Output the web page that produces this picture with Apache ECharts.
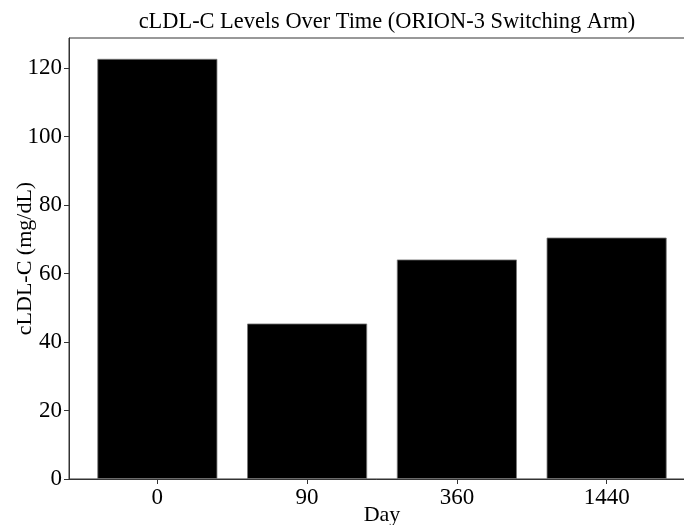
<!DOCTYPE html>
<html>
<head>
<meta charset="utf-8">
<script src="https://cdn.jsdelivr.net/npm/echarts@6/dist/echarts.min.js"></script>
<style>html,body{margin:0;padding:0;background:#fff}#c{width:684px;height:525px}</style>
</head>
<body>
<div id="c"></div>
<script>
const categories = ['0', '90', '360', '1440'];
const values = [122.7, 45.4, 64.1, 70.5];
const yTicks = [0, 20, 40, 60, 80, 100, 120];

const font = 'Liberation Serif';
const chart = echarts.init(document.getElementById('c'), null, {renderer: 'canvas'});
chart.setOption({
  animation: false,
  backgroundColor: '#fff',
  title: {
    text: 'cLDL-C Levels Over Time (ORION-3 Switching Arm)',
    left: 382, top: 6, textAlign: 'center',
    textStyle: {fontFamily: font, fontSize: 22.4, fontWeight: 'normal', color: '#000'}
  },
  grid: {left: 69, top: 38, width: 626, height: 441, show: true, borderColor: '#333', borderWidth: 1, containLabel: false, outerBoundsMode: 'none'},
  xAxis: {
    type: 'value', min: -0.59, max: 3.59,
    name: 'Day', nameLocation: 'middle', nameGap: 25, nameMoveOverlap: false,
    nameTextStyle: {fontFamily: font, fontSize: 22, color: '#000'},
    splitLine: {show: false},
    axisLine: {show: true, onZero: false, lineStyle: {color: '#333', width: 1}},
    axisTick: {show: true, customValues: [0, 1, 2, 3], length: 5, lineStyle: {color: '#333', width: 1}},
    axisLabel: {customValues: [0, 1, 2, 3], formatter: v => categories[Math.round(v)], fontFamily: font, fontSize: 23, color: '#000', margin: 7}
  },
  yAxis: {
    type: 'value', min: 0, max: 128.8,
    name: 'cLDL-C (mg/dL)', nameLocation: 'middle', nameGap: 33, nameMoveOverlap: false,
    nameTextStyle: {fontFamily: font, fontSize: 22, color: '#000'},
    splitLine: {show: false},
    axisLine: {show: true, onZero: false, lineStyle: {color: '#333', width: 1}},
    axisTick: {show: true, customValues: yTicks, length: 5, lineStyle: {color: '#333', width: 1}},
    axisLabel: {customValues: yTicks, fontFamily: font, fontSize: 23, color: '#000', margin: 7}
  },
  series: [{
    type: 'bar',
    data: values.map((v, i) => [i, v]),
    barWidth: 120,
    itemStyle: {color: '#000', borderColor: '#777', borderWidth: 0.8}
  }]
});
</script>
</body>
</html>
